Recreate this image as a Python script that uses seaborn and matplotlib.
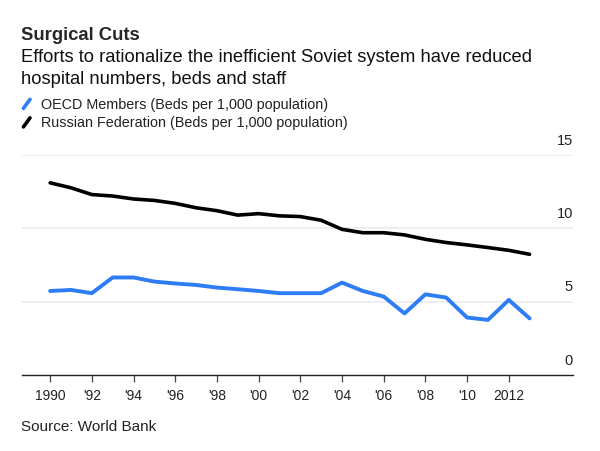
import pandas as pd
import matplotlib.pyplot as plt
from matplotlib.lines import Line2D
import seaborn as sns

# Data
years = list(range(1990, 2014))
oecd = [5.73, 5.80, 5.58, 6.65, 6.65, 6.37, 6.24, 6.14, 5.96, 5.85, 5.73, 5.58,
        5.58, 5.58, 6.30, 5.73, 5.35, 4.20, 5.50, 5.28, 3.92, 3.76, 5.12, 3.86]
russia = [13.10, 12.76, 12.30, 12.20, 12.00, 11.90, 11.70, 11.40, 11.20, 10.90, 11.00, 10.85,
          10.80, 10.55, 9.93, 9.70, 9.70, 9.55, 9.25, 9.03, 8.87, 8.69, 8.50, 8.23]
series_names = ['OECD Members (Beds per 1,000 population)',
                'Russian Federation (Beds per 1,000 population)']
x_ticks = list(range(1990, 2013, 2))
x_labels = ['1990', "'92", "'94", "'96", "'98", "'00", "'02", "'04", "'06", "'08", "'10", '2012']
y_ticks = [0, 5, 10, 15]

BLUE = '#2e7cf6'
BLACK = '#000000'

df = pd.DataFrame({
    'Year': years * 2,
    'Beds': oecd + russia,
    'Series': [series_names[0]] * len(years) + [series_names[1]] * len(years),
})

sns.set_theme(style='white')
plt.rcParams['font.family'] = ['Liberation Sans', 'DejaVu Sans']

fig = plt.figure(figsize=(6, 4.52), dpi=100)
ax = fig.add_axes([0.037, 0.168, 0.918, 0.487])

sns.lineplot(data=df, x='Year', y='Beds', hue='Series',
             palette={series_names[0]: BLUE, series_names[1]: BLACK},
             ax=ax, legend=False)
for line, lw in zip(ax.lines, [2.8, 2.6]):
    line.set_linewidth(lw)
    line.set_solid_joinstyle('round')

ax.set_xlim(1988.66, 2015.08)
ax.set_ylim(0, 15)
ax.set_xlabel('')
ax.set_ylabel('')

# gridlines + right-side labels sitting above them
for v in y_ticks[1:]:
    ax.axhline(v, color='#ebebeb', lw=1.2, zorder=0)
for v in y_ticks:
    ax.annotate(str(v), xy=(1, v), xycoords=ax.get_yaxis_transform(),
                xytext=(0, 6), textcoords='offset points',
                ha='right', va='bottom', fontsize=10.5, color='#222222')
ax.set_yticks([])

for s in ['top', 'right', 'left']:
    ax.spines[s].set_visible(False)
ax.spines['bottom'].set_color('#222222')
ax.spines['bottom'].set_linewidth(1.0)

ax.set_xticks(x_ticks)
ax.set_xticklabels(x_labels, fontsize=10, color='#222222')
ax.tick_params(axis='x', direction='out', length=5, width=0.9, color='#444444', pad=4, bottom=True)

# titles
fig.text(0.035, 0.921, 'Surgical Cuts', fontsize=13.3, fontweight='bold', va='center', ha='left')
fig.text(0.035, 0.872, 'Efforts to rationalize the inefficient Soviet system have reduced',
         fontsize=13.2, va='center', ha='left', color='#111111')
fig.text(0.035, 0.825, 'hospital numbers, beds and staff',
         fontsize=13.2, va='center', ha='left', color='#111111')

# legend
for i, (name, col) in enumerate(zip(series_names, [BLUE, BLACK])):
    yc = 0.768 - i * 0.041
    fig.add_artist(Line2D([0.039, 0.05], [yc - 0.01, yc + 0.01], color=col, lw=2.6,
                          transform=fig.transFigure))
    fig.text(0.069, yc, name, fontsize=10.4, va='center', ha='left', color='#222222')

fig.text(0.035, 0.055, 'Source: World Bank', fontsize=11, va='center', ha='left', color='#222222')

plt.savefig('out.png', dpi=100)
plt.close()
